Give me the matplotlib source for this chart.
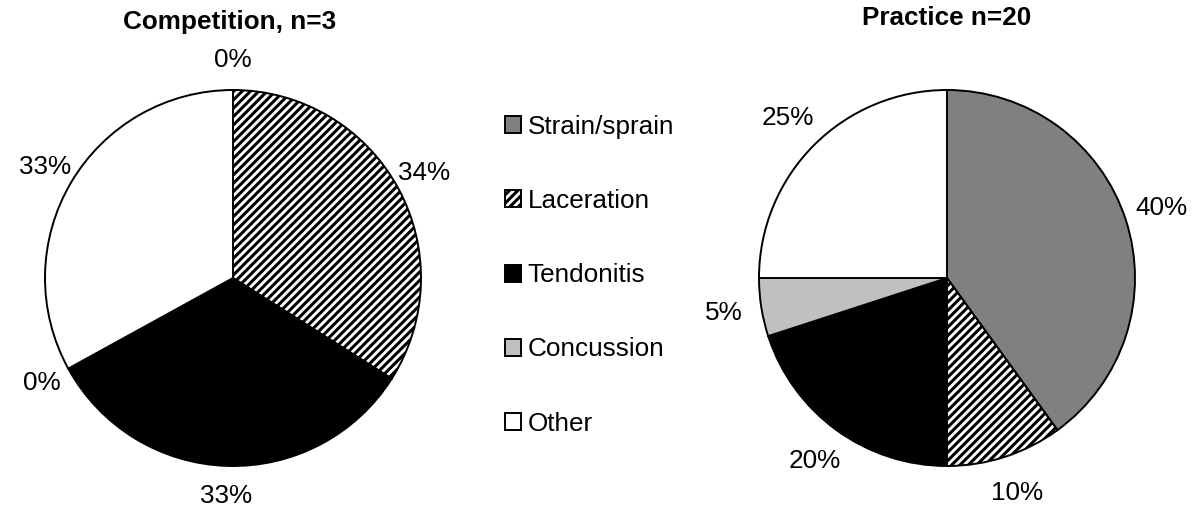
import matplotlib.pyplot as plt
from matplotlib.patches import Patch

plt.rcParams['font.family'] = ['Liberation Sans', 'DejaVu Sans']
plt.rcParams['hatch.linewidth'] = 2.2

# Injury types and their share (%) of each setting
categories = ['Strain/sprain', 'Laceration', 'Tendonitis', 'Concussion', 'Other']
competition_pct = [0, 34, 33, 0, 33]
practice_pct = [40, 10, 20, 5, 25]
titles = ['Competition, n=3', 'Practice n=20']

# Fill styles per category
fills = ['#808080', 'white', 'black', '#c0c0c0', 'white']
hatches = [None, '////', None, None, None]

W, H = 1193, 508
R = 188          # pie radius in pixels
LIM = 1.3
FS = 18.8

fig = plt.figure(figsize=(W / 100, H / 100), dpi=100)


def pie_axes(cx, cy):
    size = 2 * LIM * R
    ax = fig.add_axes([(cx - size / 2) / W, (H - cy - size / 2) / H, size / W, size / H])
    ax.set_aspect('equal')
    ax.axis('off')
    return ax


def draw_pie(ax, values, pct_dist):
    wedges, _, pcts = ax.pie(values, colors=fills, startangle=90, counterclock=False,
                             autopct='%.0f%%', pctdistance=pct_dist, radius=1,
                             wedgeprops=dict(edgecolor='black', linewidth=1.4),
                             textprops=dict(fontsize=FS, color='black'))
    for w, h in zip(wedges, hatches):
        if h:
            w.set_hatch(h)
    ax.set_xlim(-LIM, LIM)
    ax.set_ylim(-LIM, LIM)
    return wedges


ax1 = pie_axes(233, 278)
draw_pie(ax1, competition_pct, 1.16)
ax2 = pie_axes(947, 278)
draw_pie(ax2, practice_pct, 1.2)

fig.text(230 / W, 1 - 22 / H, titles[0], ha='center', va='center',
         fontsize=FS, fontweight='bold')
fig.text(947 / W, 1 - 18 / H, titles[1], ha='center', va='center',
         fontsize=FS, fontweight='bold')

handles = [Patch(facecolor=f, edgecolor='black', linewidth=1.4, hatch=h)
           for f, h in zip(fills, hatches)]
fig.legend(handles, categories, loc='upper left',
           bbox_to_anchor=(505 / W, 1 - 115 / H), frameon=False,
           fontsize=FS, handlelength=0.62, handleheight=0.62,
           handletextpad=0.25, labelspacing=1.92, borderpad=0, borderaxespad=0)

fig.savefig('out.png', dpi=100)
